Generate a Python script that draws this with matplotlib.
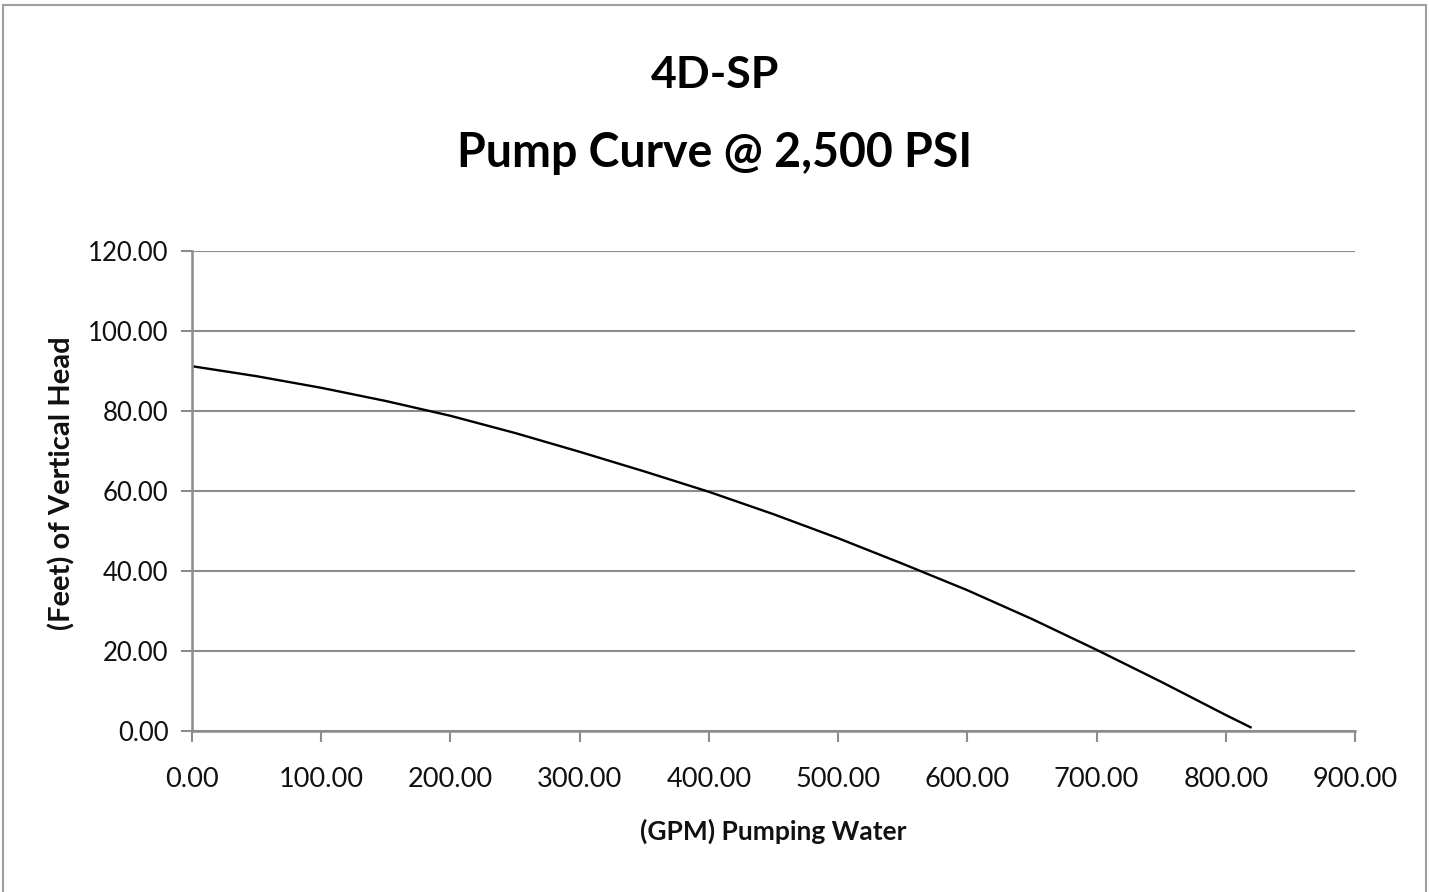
import matplotlib
matplotlib.use("Agg")
import matplotlib.pyplot as plt
from matplotlib.patches import Rectangle

gpm = [0, 50, 100, 150, 200, 250, 300, 350, 400, 450, 500, 550, 600, 650, 700, 750, 800, 820]
head = [91.2, 88.7, 85.8, 82.5, 78.8, 74.5, 69.8, 64.9, 59.8, 54.2, 48.2, 41.8, 35.2, 28.0, 20.3, 12.3, 4.0, 0.8]
x_ticks = [0, 100, 200, 300, 400, 500, 600, 700, 800, 900]
y_ticks = [0, 20, 40, 60, 80, 100, 120]
title_lines = ["4D-SP", "Pump Curve @ 2,500 PSI"]
xlabel = "(GPM) Pumping Water"
ylabel = "(Feet) of Vertical Head"

W, H = 1429, 892
fig = plt.figure(figsize=(W / 100, H / 100), dpi=100)
font = "Lato"
grid_c = "#8c8c8c"

ax = fig.add_axes([192 / W, 1 - 731 / H, (1355 - 192) / W, (731 - 251) / H])
ax.plot(gpm, head, color="black", lw=1.7, solid_capstyle="butt")
ax.set_xlim(0, 900)
ax.set_ylim(0, 120)
ax.set_xticks(x_ticks)
ax.set_yticks(y_ticks)
ax.set_xticklabels([f"{v:.2f}" for v in x_ticks], fontfamily=font, fontsize=19.5)
ax.set_yticklabels([f"{v:.2f}" for v in y_ticks], fontfamily=font, fontsize=18.5)
ax.yaxis.grid(True, color=grid_c, lw=1.5)
ax.set_axisbelow(True)
for s in ["top", "right"]:
    ax.spines[s].set_visible(False)
for s in ["left", "bottom"]:
    ax.spines[s].set_color(grid_c)
    ax.spines[s].set_linewidth(1.8)
ax.tick_params(axis="x", direction="out", length=8, width=1.5, color=grid_c, pad=18, labelcolor="#111111")
ax.tick_params(axis="y", direction="out", length=8, width=1.5, color=grid_c, pad=9, labelcolor="#111111")

fig.text(773 / W, 1 - 831 / H, xlabel, ha="center", va="center", fontfamily=font,
         fontsize=19, fontweight="bold", color="#111111")
fig.text(62 / W, 1 - 483 / H, ylabel, ha="center", va="center", rotation=90, fontfamily=font,
         fontsize=21, fontweight="bold", color="#111111")
fig.text(715 / W, 1 - 75 / H, title_lines[0], ha="center", va="center", fontfamily=font,
         fontsize=32, fontweight="bold", color="black")
fig.text(715 / W, 1 - 153 / H, title_lines[1], ha="center", va="center", fontfamily=font,
         fontsize=33.5, fontweight="bold", color="black")

fig.patches.append(Rectangle((3 / W, -0.05), (1426 - 3) / W, 1 - 5 / H + 0.05,
                             transform=fig.transFigure, fill=False, edgecolor="#a0a0a0", lw=1.5))

fig.savefig("out.png", dpi=100)
